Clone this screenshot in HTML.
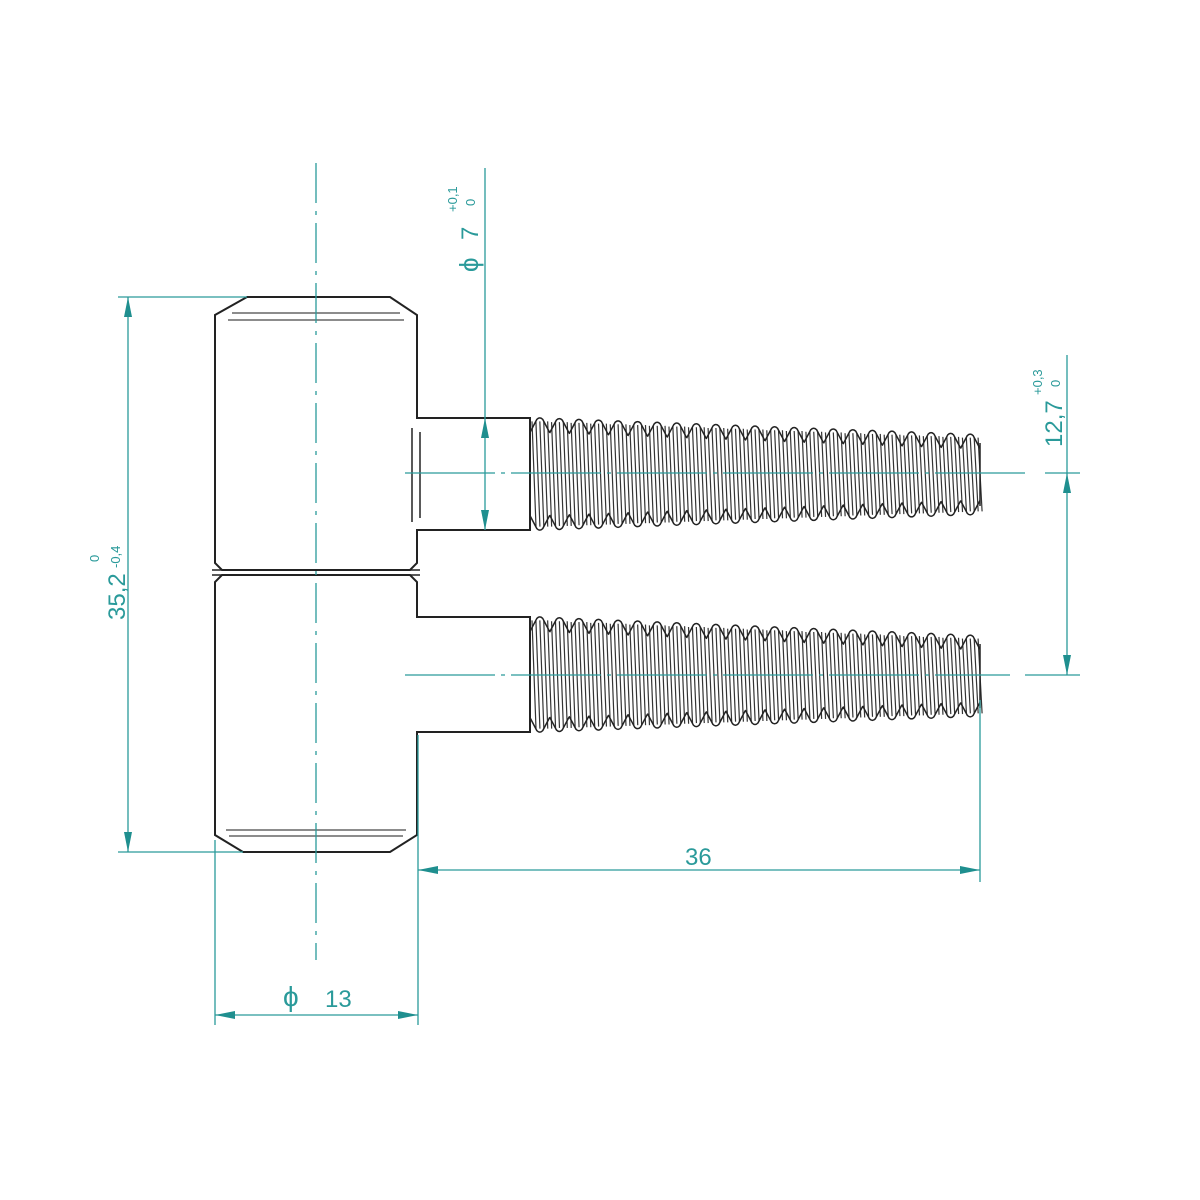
<!DOCTYPE html>
<html><head><meta charset="utf-8"><style>
html,body{margin:0;padding:0;background:#fff;}
svg{display:block}
text{font-family:"Liberation Sans",sans-serif;fill:#2a9a9a}
</style></head><body>
<svg id="s" width="1200" height="1200" viewBox="0 0 1200 1200" xmlns="http://www.w3.org/2000/svg">
<defs>
<marker id="a" viewBox="0 0 20 8" refX="20" refY="4" markerWidth="20" markerHeight="8" markerUnits="userSpaceOnUse" orient="auto-start-reverse"><path d="M0,0 L20,4 L0,8 Z" fill="#1f8f8f"/></marker>
</defs>
<g fill="none" stroke="#222" stroke-width="2">
<path d="M247,297 L390,297 L417,315 L417,418 L530,418 L530,530 L417,530 L417,563 L410,570 L222,570 L215,563 L215,315 Z"/>
<path d="M222,575 L410,575 L417,582 L417,617 L530,617 L530,732 L417,732 L417,835 L390,852 L243,852 L215,835 L215,582 Z"/>
<line x1="212" y1="570" x2="420" y2="570" stroke-width="1.5"/>
<line x1="212" y1="575" x2="420" y2="575" stroke-width="1.5"/>
<line x1="232" y1="313" x2="400" y2="313" stroke="#666" stroke-width="1.5"/>
<line x1="228" y1="320" x2="404" y2="320" stroke="#666" stroke-width="1.5"/>
<line x1="226" y1="830" x2="406" y2="830" stroke="#666" stroke-width="1.5"/>
<line x1="229" y1="836" x2="403" y2="836" stroke="#666" stroke-width="1.5"/>
<line x1="412" y1="428" x2="412" y2="522" stroke-width="1.5"/>
<line x1="420" y1="432" x2="420" y2="518" stroke-width="1.5"/>
</g>
<g id="th" fill="none" stroke="#222" stroke-width="1.5"></g>
<g stroke="#2a9a9a" stroke-width="1.3" fill="none">
<line x1="316" y1="163" x2="316" y2="960" stroke-dasharray="40,8,4,8"/>
<line x1="405" y1="473" x2="1030" y2="473" stroke-dasharray="90,6,4,6"/>
<line x1="1045" y1="473" x2="1080" y2="473"/>
<line x1="405" y1="675" x2="1010" y2="675" stroke-dasharray="90,6,4,6"/>
<line x1="1025" y1="675" x2="1080" y2="675"/>
<line x1="118" y1="297" x2="247" y2="297"/>
<line x1="118" y1="852" x2="243" y2="852"/>
<line x1="128" y1="297" x2="128" y2="852" marker-start="url(#a)" marker-end="url(#a)"/>
<line x1="485" y1="168" x2="485" y2="418"/>
<line x1="485" y1="418" x2="485" y2="530" marker-start="url(#a)" marker-end="url(#a)"/>
<line x1="1067" y1="355" x2="1067" y2="473"/>
<line x1="1067" y1="473" x2="1067" y2="675" marker-start="url(#a)" marker-end="url(#a)"/>
<line x1="980" y1="700" x2="980" y2="882"/>
<line x1="418" y1="735" x2="418" y2="1025"/>
<line x1="418" y1="870" x2="980" y2="870" marker-start="url(#a)" marker-end="url(#a)"/>
<line x1="215" y1="840" x2="215" y2="1025"/>
<line x1="215" y1="1015" x2="418" y2="1015" marker-start="url(#a)" marker-end="url(#a)"/>
</g>
<text x="685" y="865" font-size="24">36</text>
<text x="283" y="1006" font-size="28">ϕ</text>
<text x="325" y="1007" font-size="24">13</text>
<g transform="translate(125,620) rotate(-90)"><text x="0" y="0" font-size="24">35,2</text><text x="58" y="-26" font-size="13">0</text><text x="52" y="-5" font-size="13">-0,4</text></g>
<g transform="translate(478,272) rotate(-90)"><text x="0" y="0" font-size="26">ϕ</text><text x="32" y="0" font-size="24">7</text><text x="60" y="-21" font-size="13">+0,1</text><text x="66" y="-3" font-size="13">0</text></g>
<g transform="translate(1062,447) rotate(-90)"><text x="0" y="0" font-size="24">12,7</text><text x="52" y="-20" font-size="13">+0,3</text><text x="60" y="-2" font-size="13">0</text></g>
</svg>
<script>
var g=document.getElementById('th'),ns='http://www.w3.org/2000/svg';
function screw(cy,t0,b0,t1,b1){
 var x0=530,x1=980,n=23,p=(x1-x0)/n,d='',inner='';
 function T(x){return cy-(t0+(t1-t0)*(x-x0)/(x1-x0));}
 function B(x){return cy+(b0+(b1-b0)*(x-x0)/(x1-x0));}
 for(var i=0;i<n;i++){
  var x=x0+i*p,top=T(x+p/2),bot=B(x+p/2);
  d+='M'+x+','+(top+14)+' L'+(x+p*0.35)+','+(top+1)+' Q'+(x+p/2)+','+(top-2)+' '+(x+p*0.65)+','+(top+1)+' L'+(x+p)+','+(top+14);
  var xb=x;
  d+='M'+xb+','+(bot-14)+' L'+(xb+p*0.35)+','+(bot-1)+' Q'+(xb+p/2)+','+(bot+2)+' '+(xb+p*0.65)+','+(bot-1)+' L'+(xb+p)+','+(bot-14);
  for(var k=0;k<5;k++){var xx=x+k*p/5;inner+='M'+(xx+2)+','+(top+3)+' L'+(xx+6)+','+(bot-3);}
 }
 d+='M'+x1+','+(T(x1)+8)+' L'+x1+','+(B(x1)-8);
 d+='M'+x0+','+(cy-t0+10)+' L'+x0+','+(cy+b0-10);
 var e2=document.createElementNS(ns,'path');e2.setAttribute('d',inner);e2.setAttribute('stroke','#333');e2.setAttribute('stroke-width','1.2');g.appendChild(e2);
 var e=document.createElementNS(ns,'path');e.setAttribute('d',d);g.appendChild(e);
}
screw(473,55,57,38,41);
screw(675,58,57,39,41);
</script>
</body></html>
